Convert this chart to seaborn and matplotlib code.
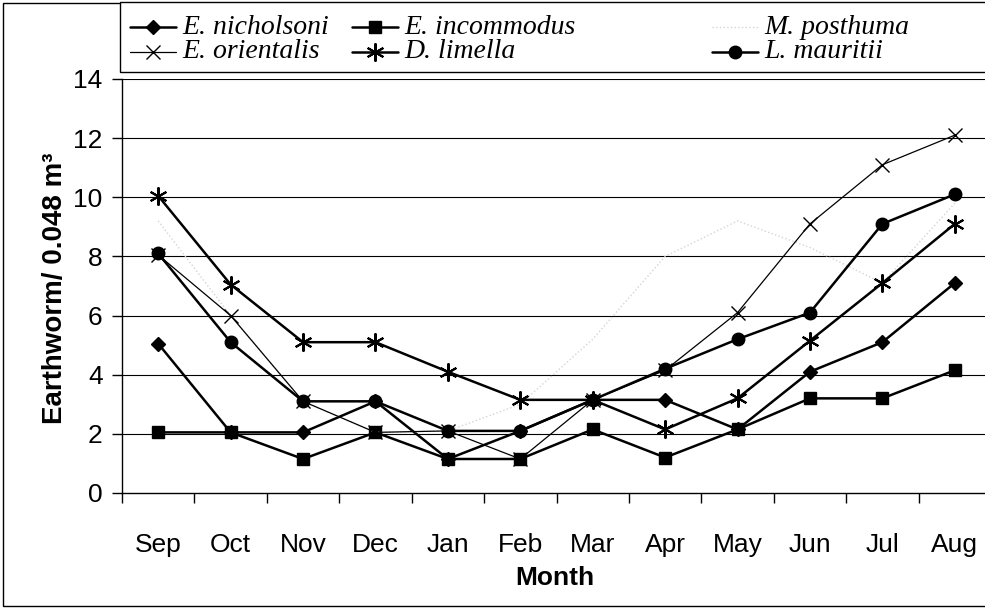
import numpy as np
import matplotlib
matplotlib.use("Agg")
import matplotlib.pyplot as plt
import seaborn as sns
from matplotlib.lines import Line2D
from matplotlib.patches import Rectangle

months = ["Sep", "Oct", "Nov", "Dec", "Jan", "Feb", "Mar", "Apr", "May", "Jun", "Jul", "Aug"]
nicholsoni = [5.05, 2.05, 2.05, 3.1, 1.15, 2.1, 3.15, 3.15, 2.15, 4.1, 5.1, 7.1]
incommodus = [2.05, 2.05, 1.15, 2.05, 1.15, 1.15, 2.15, 1.2, 2.15, 3.2, 3.2, 4.15]
posthuma = [9.2, 6.0, 3.1, 2.05, 2.1, 3.0, 5.2, 8.0, 9.2, 8.3, 7.1, 9.8]
orientalis = [8.05, 6.0, 3.1, 2.05, 2.1, 1.15, 3.15, 4.15, 6.1, 9.1, 11.1, 12.1]
limella = [10.05, 7.05, 5.1, 5.1, 4.1, 3.15, 3.15, 2.15, 3.2, 5.15, 7.1, 9.1]
mauritii = [8.1, 5.1, 3.1, 3.1, 2.1, 2.1, 3.15, 4.2, 5.2, 6.1, 9.1, 10.1]
yticks = [0, 2, 4, 6, 8, 10, 12, 14]

sns.set_theme(style="white")
plt.rcParams["font.family"] = ["Liberation Sans", "DejaVu Sans"]

W, H = 985, 609
fig = plt.figure(figsize=(W / 100, H / 100), dpi=100)
ax = fig.add_axes([122 / W, 1 - 493 / H, (991 - 122) / W, (493 - 79) / H])

x = np.arange(len(months))
star = (6, 2, 0)
styles = [
    ("E. nicholsoni", nicholsoni, dict(color="black", lw=1.8, marker="D", markersize=7.5)),
    ("E. incommodus", incommodus, dict(color="black", lw=1.8, marker="s", markersize=8.5)),
    ("M. posthuma", posthuma, dict(color="#d4d4d4", lw=1.0, ls=":", marker=None)),
    ("E. orientalis", orientalis, dict(color="black", lw=0.9, marker="x", markersize=10, markeredgewidth=1.0)),
    ("D. limella", limella, dict(color="black", lw=1.8, marker=star, markersize=13, markeredgewidth=1.5)),
    ("L. mauritii", mauritii, dict(color="black", lw=1.8, marker="o", markersize=9)),
]
for name, vals, kw in styles:
    kw = dict(kw)
    if kw.get("marker") is not None:
        kw.setdefault("markeredgewidth", 1.0)
        kw["markeredgecolor"] = "black"
        kw["markerfacecolor"] = "black"
    sns.lineplot(x=x, y=vals, ax=ax, legend=False, **kw)

ax.set_xlim(-0.5, len(months) - 0.5)
ax.set_ylim(0, 14)
ax.set_yticks(yticks)
ax.set_yticklabels([str(v) for v in yticks])
ax.set_xticks(np.arange(-0.5, len(months), 1.0))
ax.set_xticklabels([""] * (len(months) + 1))
ax.set_xticks(x, minor=True)
ax.set_xticklabels(months, minor=True)
ax.tick_params(axis="x", which="major", direction="out", length=7, width=1, color="black", bottom=True)
ax.tick_params(axis="x", which="minor", length=0, pad=29, labelsize=19, labelcolor="black", bottom=True)
ax.tick_params(axis="y", direction="out", length=7, width=1, color="black", pad=7, labelsize=19, labelcolor="black", left=True)
ax.grid(False)
for v in yticks[1:]:
    ax.axhline(v, color="black", lw=0.8, zorder=0.5)
for s in ["top", "right"]:
    ax.spines[s].set_visible(False)
for s in ["left", "bottom"]:
    ax.spines[s].set_color("black")
    ax.spines[s].set_linewidth(1.0)
ax.set_xlabel("")
ax.set_ylabel("")

fig.text(55 / W, 1 - 288 / H, "Earthworm/ 0.048 m³", rotation=90, ha="center", va="center",
         fontsize=20, fontweight="bold", color="black")
fig.text(555 / W, 1 - 578 / H, "Month", ha="center", va="center", fontsize=19,
         fontweight="bold", color="black")

# figure frame and legend box
fig.add_artist(Rectangle((3 / W, 3 / H), 1.0, 1 - 6 / H, transform=fig.transFigure,
                         fill=False, lw=1.0, ec="black"))
fig.add_artist(Rectangle((120 / W, 1 - 72 / H), (995 - 120) / W, 70 / H, transform=fig.transFigure,
                         facecolor="white", lw=1.0, ec="black"))

leg_pos = {
    "E. nicholsoni": (130, 27), "E. incommodus": (352, 27), "M. posthuma": (712, 27),
    "E. orientalis": (130, 52), "D. limella": (352, 52), "L. mauritii": (712, 52),
}
for name, vals, kw in styles:
    px, py = leg_pos[name]
    lkw = dict(kw)
    if lkw.get("marker") is not None:
        lkw.setdefault("markeredgewidth", 1.0)
        lkw["markeredgecolor"] = "black"
        lkw["markerfacecolor"] = "black"
    ln = Line2D([px / W, (px + 23) / W, (px + 46) / W], [1 - py / H] * 3, transform=fig.transFigure,
                markevery=[1], **lkw)
    fig.add_artist(ln)
    fig.text((px + 52) / W, 1 - py / H, name, ha="left", va="center", fontsize=20,
             style="italic", family="Liberation Serif", color="black")

fig.savefig("out.png", dpi=100)
